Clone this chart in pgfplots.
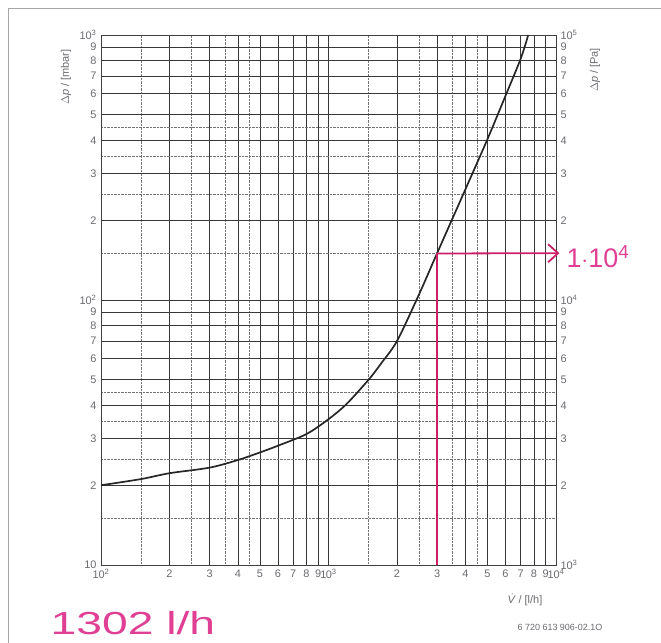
\documentclass[border=0pt]{standalone}
\usepackage{pgfplots}
\pgfplotsset{compat=1.18}
\usetikzlibrary{arrows.meta}
\usepackage{fontspec}
\setmainfont{Liberation Sans}
\definecolor{lbl}{rgb}{0.42,0.42,0.44}
\definecolor{pen}{rgb}{0.88,0.25,0.58}
\definecolor{penline}{rgb}{0.80,0.12,0.40}
\begin{document}
\begin{tikzpicture}
\path[use as bounding box] (0,0) rectangle (661bp,643bp);
\draw[gray!70, line width=0.8pt] (8bp,0) -- (8bp,635bp) -- (661bp,635bp);
\begin{axis}[
  at={(101bp,78bp)}, anchor=south west,
  width=455bp, height=530bp, scale only axis,
  xmode=log, ymode=log,
  xmin=100, xmax=10000, ymin=10, ymax=1000,
  clip=false,
  axis line style={black!75, line width=0.7pt},
  major tick length=0pt, minor tick length=0pt,
  xtick={100,200,300,400,500,600,700,800,900,1000,2000,3000,4000,5000,6000,7000,8000,9000,10000},
  xticklabels={10\textsuperscript{2},2,3,4,5,6,7,8,9,1\kern-0.5pt0\textsuperscript{3},2,3,4,5,6,7,8,9,10\textsuperscript{4}},
  minor xtick={150,250,350,450,1500,2500,3500,4500},
  ytick={10,20,30,40,50,60,70,80,90,100,200,300,400,500,600,700,800,900,1000},
  yticklabels={10,2,3,4,5,6,7,8,9,10\textsuperscript{2},2,3,4,5,6,7,8,9,10\textsuperscript{3}},
  minor ytick={15,25,35,45,150,250,350,450},
  grid=both,
  major grid style={black!78, line width=0.6pt},
  minor grid style={black!55, densely dotted, line width=0.5pt},
  tick label style={font=\fontsize{11}{13}\selectfont, text=lbl},
  xticklabel style={yshift=-1bp},
  yticklabel style={xshift=-1bp},
]
\addplot[black!85, line width=1.7pt, smooth] coordinates {
(100,20) (150,21.1) (200,22.2) (300,23.3) (400,24.9) (500,26.6) (600,28.2) (800,31.2) (1000,35.5) (1200,40.5) (1500,50) (1700,57.5) (2000,70) (2500,105) (3000,150) (4000,262) (5000,405) (6000,590) (7000,815) (7550,1000)
};
\addplot[penline, line width=1.4pt] coordinates {(3000,10) (3000,150)};
\addplot[penline, line width=1.8pt, -{Straight Barb[length=10bp,width=18bp]}] coordinates {(2990,149.8) (10350,150.2)};
\end{axis}
\begin{axis}[
  at={(101bp,78bp)}, anchor=south west,
  width=455bp, height=530bp, scale only axis,
  xmode=log, ymode=log,
  xmin=100, xmax=10000, ymin=1000, ymax=100000,
  axis x line=none, axis y line*=right,
  axis line style={draw=none},
  major tick length=0pt, minor tick length=0pt,
  ytick={1000,2000,3000,4000,5000,6000,7000,8000,9000,10000,20000,30000,40000,50000,60000,70000,80000,90000,100000},
  yticklabels={10\textsuperscript{3},2,3,4,5,6,7,8,9,10\textsuperscript{4},2,3,4,5,6,7,8,9,10\textsuperscript{5}},
  tick label style={font=\fontsize{11}{13}\selectfont, text=lbl},
  yticklabel style={xshift=1bp},
]
\end{axis}
\node[rotate=90, text=lbl, font=\fontsize{11}{13}\selectfont] at (66bp,566bp) {$\Delta$\textit{p} / [mbar]};
\node[rotate=90, text=lbl, font=\fontsize{11}{13}\selectfont] at (595bp,573bp) {$\Delta$\textit{p} / [Pa]};
\node[text=lbl, font=\fontsize{11}{13}\selectfont] at (525bp,43bp) {\textit{\.{V}} / [l/h]};
\node[text=lbl, font=\fontsize{9}{11}\selectfont] at (560bp,16bp) {6 720 613 906-02.1O};
\node[text=pen, font=\fontsize{32}{36}\selectfont, xscale=1.45] at (133bp,20bp) {1302 l/h};
\node[text=pen, font=\fontsize{27}{30}\selectfont, anchor=west] at (563bp,386bp) {1$\cdot$10\textsuperscript{4}};
\end{tikzpicture}
\end{document}
